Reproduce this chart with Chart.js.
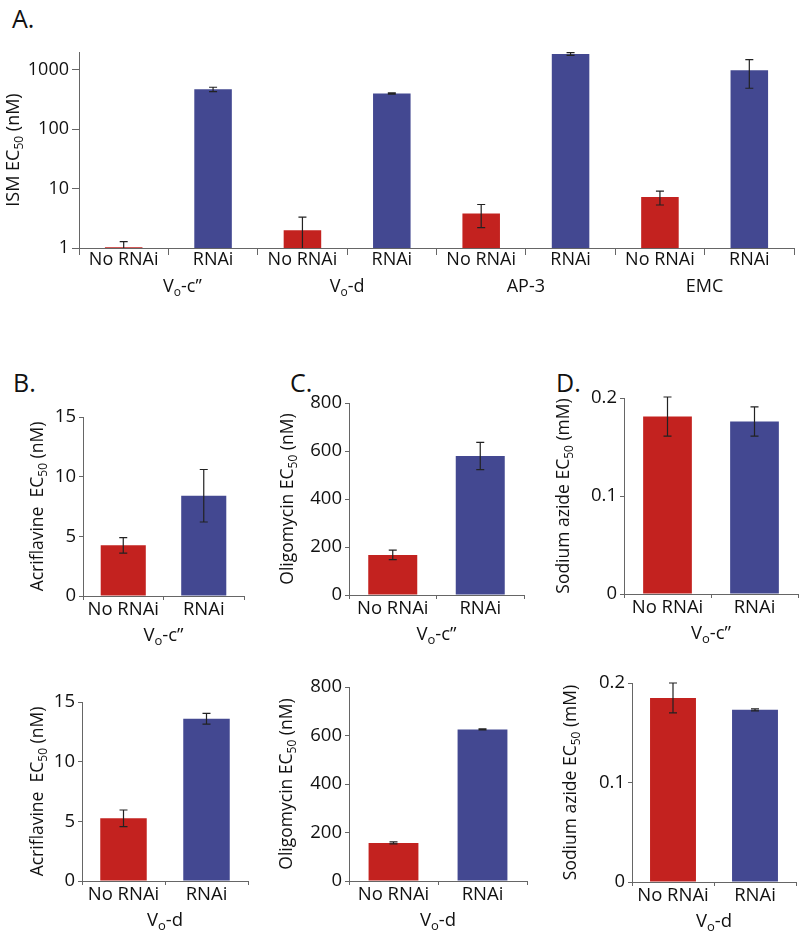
<!DOCTYPE html>
<html>
<head>
<meta charset="utf-8">
<script src="https://cdn.jsdelivr.net/npm/chart.js@4.4.0/dist/chart.umd.min.js"></script>
<style>
  body { margin: 0; background: #fff; }
  #wrap { position: relative; width: 802px; height: 937px; }
  #wrap canvas { position: absolute; left: 0; top: 0; }
  .lbl { position: absolute; font: 25px "Open Sans", sans-serif; color: #111; }
</style>
</head>
<body>
<div id="wrap">
  <div class="lbl" style="left:12px;top:1px">A.</div>
  <div class="lbl" style="left:13px;top:365px">B.</div>
  <div class="lbl" style="left:290px;top:365px">C.</div>
  <div class="lbl" style="left:556px;top:365px">D.</div>
  <canvas id="cA" width="802" height="937"></canvas>
  <canvas id="cB1" width="802" height="937"></canvas>
  <canvas id="cB2" width="802" height="937"></canvas>
  <canvas id="cC1" width="802" height="937"></canvas>
  <canvas id="cC2" width="802" height="937"></canvas>
  <canvas id="cD1" width="802" height="937"></canvas>
  <canvas id="cD2" width="802" height="937"></canvas>
</div>
<script>
// données
const treatments = ['No RNAi', 'RNAi'];

// A. ISM (echelle log)
const ismGroups = ['V_{o}-c”', 'V_{o}-d', 'AP-3', 'EMC'];
const ismNoRnai = [1.03, 2.0, 3.8, 7.2];
const ismNoRnaiErr = [0.25, 1.3, 1.6, 1.9];
const ismRnai = [470, 400, 1850, 990];
const ismRnaiErr = [40, 10, 100, 500];
const ismTicks = [1, 10, 100, 1000];

// B. acriflavine
const acriVoc = [4.25, 8.4];
const acriVocErr = [0.65, 2.2];
const acriVod = [5.25, 13.6];
const acriVodErr = [0.7, 0.45];
const acriTicks = [0, 5, 10, 15];

// C. oligomycin
const oligoVoc = [167, 579];
const oligoVocErr = [20, 57];
const oligoVod = [157, 625];
const oligoVodErr = [4, 2];
const oligoTicks = [0, 200, 400, 600, 800];

// D. sodium azide
const azideVoc = [0.181, 0.176];
const azideVocErr = [0.02, 0.015];
const azideVod = [0.185, 0.173];
const azideVodErr = [0.015, 0.001];
const azideTicks = [0, 0.1, 0.2];

const RED = '#C3221F';
const BLUE = '#434891';
const AXIS = '#666';
const W = 802, H = 937;

Chart.defaults.font.family = '"Open Sans", sans-serif';
Chart.defaults.color = '#111';

// "EC_{50}" -> segments avec indice
function parseRich(txt) {
    return txt.split(/(_\{[^}]*\})/).filter(s => s.length).map(s =>
        s[0] === '_' ? { t: s.slice(2, -1), sub: true } : { t: s, sub: false });
}

function drawRich(ctx, txt, x, y, size, angle) {
    const segs = parseRich(txt);
    const f = s => (s.sub ? Math.round(size * 0.68) : size) + 'px "Open Sans", sans-serif';
    ctx.save();
    ctx.translate(x, y);
    ctx.rotate(angle);
    let w = 0;
    segs.forEach(s => { ctx.font = f(s); w += ctx.measureText(s.t).width; });
    let cx = -w / 2;
    ctx.fillStyle = '#111';
    ctx.textBaseline = 'alphabetic';
    ctx.textAlign = 'left';
    segs.forEach(s => {
        ctx.font = f(s);
        ctx.fillText(s.t, cx, size * 0.36 + (s.sub ? size * 0.22 : 0));
        cx += ctx.measureText(s.t).width;
    });
    ctx.restore();
}

const errorBars = {
    id: 'errorBars',
    afterDatasetsDraw(chart) {
        const ctx = chart.ctx;
        const ys = chart.scales.y;
        chart.data.datasets.forEach((ds, di) => {
            const meta = chart.getDatasetMeta(di);
            meta.data.forEach((bar, i) => {
                const v = ds.data[i], e = ds.errors[i];
                let lo = v - e, clipped = false;
                if (lo < ys.min) { lo = ys.min; clipped = true; }
                const top = ys.getPixelForValue(v + e);
                const bot = ys.getPixelForValue(lo);
                const cap = 4;
                ctx.save();
                ctx.strokeStyle = '#222';
                ctx.lineWidth = 1.2;
                ctx.beginPath();
                ctx.moveTo(bar.x, top); ctx.lineTo(bar.x, bot);
                ctx.moveTo(bar.x - cap, top); ctx.lineTo(bar.x + cap, top);
                if (!clipped) { ctx.moveTo(bar.x - cap, bot); ctx.lineTo(bar.x + cap, bot); }
                ctx.stroke();
                ctx.restore();
            });
        });
    }
};

const panelText = {
    id: 'panelText',
    afterDraw(chart, args, opts) {
        const ctx = chart.ctx;
        const a = chart.chartArea;
        const xs = chart.scales.x;
        drawRich(ctx, opts.title, a.left - opts.titleOff, (a.top + a.bottom) / 2, opts.titleSize, -Math.PI / 2);
        const per = opts.perGroup;
        opts.groups.forEach((g, i) => {
            const x0 = xs.getPixelForValue(i * per);
            const x1 = xs.getPixelForValue(i * per + per - 1);
            drawRich(ctx, g, (x0 + x1) / 2 + (opts.groupShift ? opts.groupShift[i] : 0), a.bottom + opts.groupOff, opts.fontSize, 0);
        });
    }
};

function makeChart(id, c) {
    return new Chart(document.getElementById(id), {
        type: 'bar',
        data: {
            labels: c.labels,
            datasets: [{
                data: c.values,
                errors: c.errors,
                backgroundColor: c.colors,
                borderWidth: 0,
                barPercentage: c.barPct,
                categoryPercentage: 1
            }]
        },
        options: {
            responsive: false,
            animation: false,
            layout: {
                padding: { left: c.area[0] - 60, top: c.area[1], right: W - c.area[2], bottom: H - c.area[3] - 70 }
            },
            plugins: {
                legend: { display: false },
                tooltip: { enabled: false },
                panelText: {
                    title: c.title, titleOff: c.titleOff, titleSize: c.titleSize,
                    groups: c.groups, perGroup: c.perGroup, groupOff: 38,
                    groupShift: c.groupShift, fontSize: c.fontSize
                }
            },
            scales: {
                x: {
                    offset: true,
                    grid: { offset: true, drawOnChartArea: false, tickLength: c.xTick, color: AXIS },
                    border: { color: AXIS, width: 1 },
                    ticks: { font: { size: c.fontSize }, padding: c.xPad, maxRotation: 0, autoSkip: false },
                    afterFit: s => { s.height = 70; }
                },
                y: {
                    type: c.yType,
                    min: c.yMin,
                    max: c.yMax,
                    grid: { drawOnChartArea: false, tickLength: c.yTick, color: AXIS },
                    border: { color: AXIS, width: 1 },
                    ticks: { font: { size: c.fontSize }, padding: 3, callback: v => String(v) },
                    afterBuildTicks: s => { s.ticks = c.yTicksArr.map(v => ({ value: v })); },
                    afterFit: s => { s.width = 60; }
                }
            }
        },
        plugins: [errorBars, panelText]
    });
}

// panel A : categories entrelacees
const ismLabels = [], ismValues = [], ismErrors = [], ismColors = [];
ismGroups.forEach((g, i) => {
    ismLabels.push(treatments[0], treatments[1]);
    ismValues.push(ismNoRnai[i], ismRnai[i]);
    ismErrors.push(ismNoRnaiErr[i], ismRnaiErr[i]);
    ismColors.push(RED, BLUE);
});

makeChart('cA', {
    labels: ismLabels, values: ismValues, errors: ismErrors, colors: ismColors,
    yType: 'logarithmic', yMin: 1, yMax: 2000, yTicksArr: ismTicks,
    area: [79, 52, 794, 248], barPct: 0.42, xTick: 7, yTick: 7, xPad: -6,
    title: 'ISM EC_{50} (nM)', titleOff: 66, titleSize: 18,
    groups: ismGroups, perGroup: 2, groupShift: [14, 0, 0, 0], fontSize: 18
});

const small = [
    ['cB1', acriVoc, acriVocErr, acriTicks, 15, [83, 417, 244, 596], 'Acriflavine  EC_{50} (nM)', 46, 'V_{o}-c”'],
    ['cB2', acriVod, acriVodErr, acriTicks, 15, [82, 702, 248, 881], 'Acriflavine  EC_{50} (nM)', 45, 'V_{o}-d'],
    ['cC1', oligoVoc, oligoVocErr, oligoTicks, 800, [349, 403, 524, 595], 'Oligomycin EC_{50} (nM)', 62, 'V_{o}-c”'],
    ['cC2', oligoVod, oligoVodErr, oligoTicks, 800, [349, 687, 527, 881], 'Oligomycin EC_{50} (nM)', 63, 'V_{o}-d'],
    ['cD1', azideVoc, azideVocErr, azideTicks, 0.2, [624, 398, 798, 594], 'Sodium azide EC_{50} (mM)', 61, 'V_{o}-c”'],
    ['cD2', azideVod, azideVodErr, azideTicks, 0.2, [632, 683, 796, 882], 'Sodium azide EC_{50} (mM)', 62, 'V_{o}-d']
];
small.forEach(p => {
    makeChart(p[0], {
        labels: treatments, values: p[1], errors: p[2], colors: [RED, BLUE],
        yType: 'linear', yMin: 0, yMax: p[4], yTicksArr: p[3],
        area: p[5], barPct: 0.56, xTick: 4, yTick: 4, xPad: -1,
        title: p[6], titleOff: p[7], titleSize: 17.5,
        groups: [p[8]], perGroup: 2, fontSize: 18.5
    });
});
</script>
</body>
</html>
